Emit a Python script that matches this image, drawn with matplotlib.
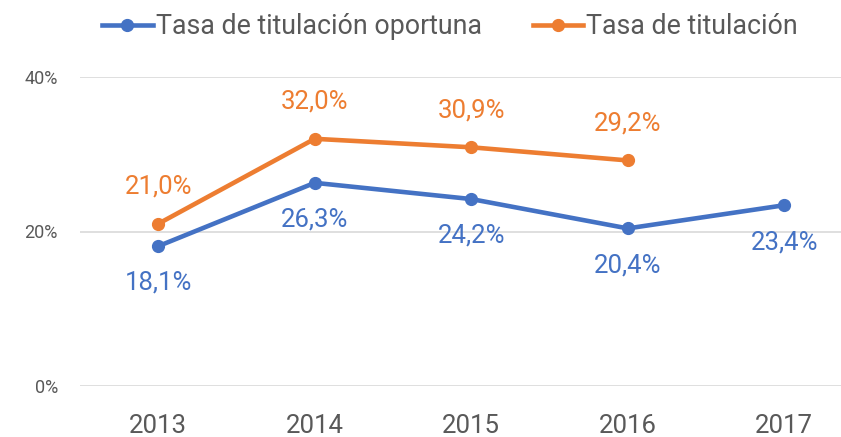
import matplotlib.pyplot as plt
from matplotlib.ticker import FuncFormatter

years = ['2013', '2014', '2015', '2016', '2017']
oportuna = [18.1, 26.3, 24.2, 20.4, 23.4]
titulacion = [21.0, 32.0, 30.9, 29.2]
y_ticks = [0, 20, 40]

blue = '#4472C4'
orange = '#ED7D31'
grey = '#595959'
plt.rcParams['font.family'] = ['Roboto', 'DejaVu Sans']

fig = plt.figure(figsize=(8.41, 4.37), dpi=100)
fig.patch.set_facecolor('white')
ax = fig.add_axes([80 / 841, 51 / 437, 782.5 / 841, 309 / 437])

x1 = list(range(len(oportuna)))
x2 = list(range(len(titulacion)))
ax.plot(x1, oportuna, color=blue, lw=3.3, marker='o', ms=8.5, label='Tasa de titulación oportuna', zorder=3)
ax.plot(x2, titulacion, color=orange, lw=3.3, marker='o', ms=8.5, label='Tasa de titulación', zorder=3)

# etiquetas de datos
for x, v in zip(x1, oportuna):
    ax.annotate(f'{v:.1f}%'.replace('.', ','), (x, v), xytext=(0, -26.5), textcoords='offset points',
                ha='center', va='center', color=blue, fontsize=18.5)
for x, v in zip(x2, titulacion):
    ax.annotate(f'{v:.1f}%'.replace('.', ','), (x, v), xytext=(0, 26.5), textcoords='offset points',
                ha='center', va='center', color=orange, fontsize=18.5)

ax.set_xlim(-0.5, 4.5)
ax.set_ylim(0, 40)
ax.set_yticks(y_ticks)
ax.yaxis.set_major_formatter(FuncFormatter(lambda v, p: f'{v:.0f}%'))
ax.set_xticks(x1)
ax.set_xticklabels(years)
ax.grid(axis='y', color='#D9D9D9', lw=1.2)
ax.set_axisbelow(True)
for s in ax.spines.values():
    s.set_visible(False)
ax.tick_params(axis='both', length=0)
ax.tick_params(axis='y', labelsize=13, labelcolor=grey, pad=16)
ax.tick_params(axis='x', labelsize=18.5, labelcolor=grey, pad=20)

fig.legend(loc='center left', bbox_to_anchor=(102 / 841, 1 - 27 / 437), ncol=2, frameon=False,
           borderpad=0, borderaxespad=0, fontsize=19.3, labelcolor=grey,
           handlelength=1.9, handletextpad=0.1, columnspacing=1.9)

fig.savefig('out.png', dpi=100)
